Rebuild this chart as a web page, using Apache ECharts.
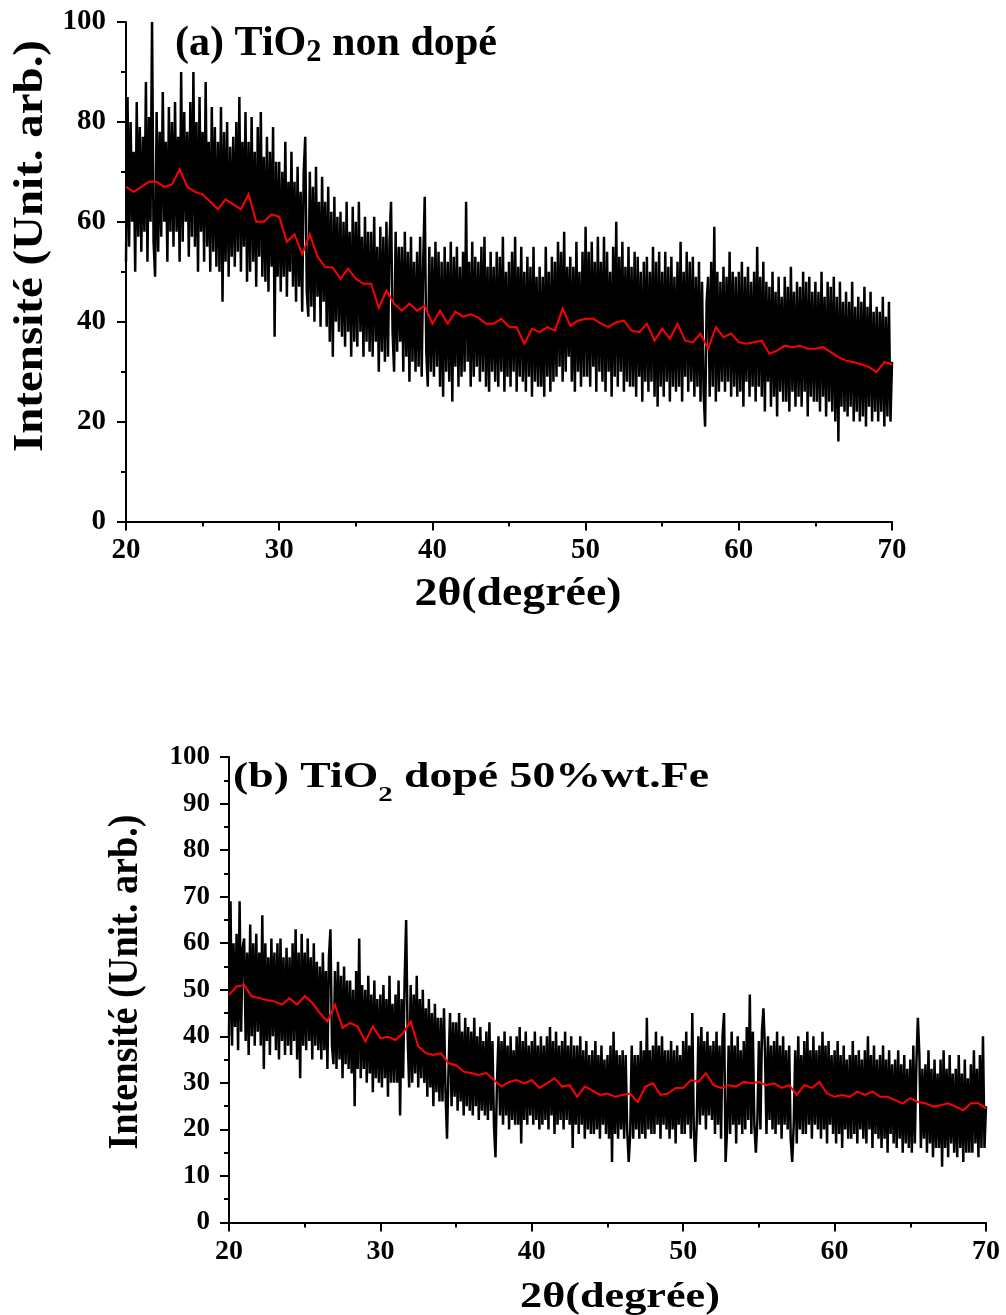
<!DOCTYPE html>
<html>
<head>
<meta charset="utf-8">
<script src="https://cdn.jsdelivr.net/npm/echarts@6/dist/echarts.min.js"></script>
<style>
html,body{margin:0;padding:0;background:#fff;}
#chart{width:1006px;height:1315px;}
</style>
</head>
<body>
<div id="chart"></div>
<script>
// ---------------- DATA ----------------
// x axis: 2theta from 20 to 70 degrees
const xMin = 20, xMax = 70, xTickStep = 10;
const rawStep = 0.1;     // spacing of the raw (black) diffractogram points
const smoothStep = 0.5;  // spacing of the smoothed (red) curve points

// (a) TiO2 non dopé – raw intensity, one row per degree (20.0 ... 69.9), then 70.0
const rawA = [
 52,85,55,80,60,74,50,84,57,79,
 54,77,58,88,52,81,60,100,56,49,
 82,54,78,57,86,60,76,52,83,58,
 80,55,84,58,77,52,90,56,82,60,
 78,53,84,57,90,55,80,50,85,58,
 78,52,88,55,76,50,83,54,79,51,
 76,50,83,44,78,52,80,49,75,53,
 77,51,80,54,85,50,76,55,82,48,
 76,50,81,52,74,47,79,53,82,49,
 73,48,77,46,74,51,79,37,72,49,
 72,46,70,49,76,45,68,50,74,47,
 68,44,71,47,66,42,70,77,46,41,
 70,43,67,40,71,45,64,39,69,44,
 64,39,67,36,62,33,65,40,61,38,
 62,37,60,35,64,38,58,33,63,36,
 60,35,64,38,57,33,61,36,58,34,
 58,33,61,36,55,30,59,34,57,32,
 60,33,56,64,38,30,58,34,55,36,
 55,30,58,33,54,28,57,32,52,30,
 54,31,57,29,52,65,34,27,55,30,
 53,29,56,31,54,27,52,25,55,30,
 52,28,56,24,53,31,55,27,51,29,
 54,30,64,32,52,27,56,29,53,31,
 52,28,55,30,57,27,51,26,54,30,
 51,28,54,27,53,30,57,26,50,29,
 52,27,54,30,57,26,51,29,55,28,
 50,26,53,29,51,25,55,28,49,27,
 51,27,49,25,55,29,50,26,53,28,
 52,29,56,31,54,28,58,30,51,33,
 53,28,51,26,56,30,50,27,54,29,
 59,29,54,27,56,31,52,26,57,30,
 52,28,57,26,54,30,50,25,55,29,
 60,27,53,30,56,26,51,28,55,27,
 51,27,54,25,53,29,50,24,52,28,
 53,26,50,28,55,25,52,23,54,27,
 50,25,54,28,51,24,53,27,49,26,
 52,27,56,24,50,29,54,26,52,28,
 53,25,49,27,52,24,48,26,19,44,
 49,25,52,27,59,24,50,26,48,28,
 51,26,49,28,54,25,50,27,49,25,
 50,26,52,23,49,28,51,25,48,27,
 50,24,55,27,49,25,52,22,48,28,
 47,23,50,25,46,21,49,26,45,24,
 49,24,47,22,51,26,46,23,48,25,
 47,23,50,26,48,21,49,25,46,24,
 48,24,46,22,50,25,45,21,48,24,
 47,22,49,20,45,16,48,23,44,22,
 46,21,44,23,48,20,43,22,45,20,
 44,21,47,19,43,23,46,20,42,22,
 43,20,42,22,45,19,41,21,44,20,
 32
];

// (a) smoothed curve, every 0.5 degree from 20.0 to 70.0
const smoothA = [
 67,66,67,68,68,67,67.5,70.5,67,66,
 65.5,64,62.5,64.5,63.5,62.5,65.5,60,60,61.5,
 61,56,57.5,53.5,57.5,53,51,50.8,48.6,50.6,
 48.6,47.6,47.6,42.8,46.2,43.6,42.2,43.6,42.2,43.2,
 39.6,42.2,39.6,42,41,41.5,40.8,39.6,39.6,40.6,
 39,38.9,35.6,38.6,37.9,38.9,38.2,42.6,39.2,40.2,
 40.6,40.6,39.6,38.9,39.9,40.2,38.2,37.9,39.6,36.2,
 38.6,36.6,39.6,36.2,35.9,37.6,34.6,38.9,36.9,37.6,
 35.9,35.6,35.9,36.2,33.6,34.2,35.2,34.9,35.2,34.6,
 34.6,34.9,33.9,32.9,32.2,31.9,31.5,30.9,29.9,31.9,
 31.5
];

// (b) TiO2 dopé 50%wt.Fe – raw intensity
const rawB = [
 40,69,38,60,42,62,37,69,41,59,
 61,39,58,36,64,40,60,38,62,41,
 58,38,66,33,60,39,57,36,61,40,
 58,37,60,35,61,39,57,36,59,38,
 57,36,60,39,63,35,58,31,62,38,
 58,37,61,39,57,35,60,38,56,37,
 55,35,58,37,54,33,57,63,38,34,
 54,33,56,35,53,31,55,34,52,33,
 52,32,50,25,54,33,61,31,51,33,
 50,30,53,32,49,28,52,31,48,30,
 49,29,51,31,48,27,53,30,47,30,
 49,30,52,23,48,31,52,65,40,29,
 51,30,49,32,53,29,48,31,50,30,
 46,27,48,29,45,25,47,28,44,26,
 44,26,46,28,18,33,45,25,43,27,
 43,24,45,26,41,23,44,25,42,24,
 41,23,44,25,40,22,42,24,39,23,
 41,22,43,24,39,21,14,30,40,23,
 39,21,41,23,38,20,40,22,37,21,
 40,21,42,17,39,22,41,21,38,23,
 39,21,41,22,38,20,40,21,38,22,
 40,20,42,23,39,19,41,21,38,22,
 39,20,41,22,38,21,40,16,38,21,
 38,19,40,21,37,18,39,20,36,19,
 37,19,39,20,36,18,38,21,35,19,
 36,18,38,13,41,19,37,18,36,20,
 37,18,36,20,13,19,38,18,36,20,
 36,18,39,19,37,18,44,20,37,19,
 38,19,41,21,38,18,40,21,37,20,
 37,18,39,20,37,17,38,21,36,19,
 39,19,41,21,38,18,45,20,13,22,
 40,21,42,23,39,20,41,23,38,22,
 39,19,41,21,38,18,40,45,13,20,
 38,19,41,21,38,17,40,21,37,19,
 39,20,42,22,49,19,41,21,15,22,
 39,20,41,46,37,19,40,22,38,20,
 39,19,41,21,38,18,40,21,37,20,
 38,18,13,21,37,17,40,20,36,19,
 39,19,41,21,37,18,40,21,37,20,
 38,18,41,20,38,17,39,21,36,19,
 37,17,39,19,36,16,38,20,35,18,
 36,18,39,19,36,17,37,20,35,18,
 37,17,40,20,36,16,38,19,35,18,
 36,16,38,18,35,15,37,19,34,17,
 35,16,37,18,34,15,36,17,33,16,
 35,15,38,17,34,44,36,16,33,18,
 34,15,37,17,33,14,35,16,32,16,
 35,12,37,16,33,14,36,17,32,15,
 33,14,36,16,32,13,35,15,31,15,
 34,15,37,17,33,14,36,16,40,16,
 25
];

// (b) smoothed curve, every 0.5 degree
const smoothB = [
 48.9,50.7,51,48.6,48.2,47.8,47.5,46.8,48.2,46.8,
 48.6,47.2,45,43.2,46.8,41.8,42.9,42.1,38.9,42.1,
 39.6,39.9,39.2,40.7,43.2,37.8,36.4,36,36.4,34.2,
 33.8,32.4,32.1,31.7,32.1,30.6,29.2,30.2,30.6,29.9,
 30.6,28.9,29.9,31,29.2,29.5,27,29.2,28.4,27.4,
 27.7,27,27.4,27.7,25.9,29.2,29.9,27.4,27.7,28.9,
 28.9,30.6,30.2,32.1,29.5,28.9,29.5,29.2,30.2,29.9,
 30.2,29.5,29.9,28.9,29.5,27.4,29.5,28.9,30.2,27.7,
 27,27.4,27,28.1,27.4,28.1,27,27,26.3,25.6,
 26.7,25.9,25.6,24.9,25.2,25.6,24.9,24.1,25.6,25.6,
 24.5
];

// y axes
const yA = {min: 0, max: 100, interval: 20};
const yB = {min: 0, max: 100, interval: 10};

// texts
const titleA = ['(a) TiO', '2', ' non dopé'];
const titleB = ['(b) TiO', '2', ' dopé 50%wt.Fe'];
const xName = '2θ(degrée)';
const yName = 'Intensité (Unit. arb.)';

// ---------------- BUILD ----------------
const FONT = 'Liberation Serif';
const mctx = document.createElement('canvas').getContext('2d');
function measure(t, size) {
  mctx.font = 'bold ' + size + 'px "' + FONT + '"';
  return mctx.measureText(t).width;
}
function pairs(arr, step) {
  return arr.map((v, i) => [+(xMin + i * step).toFixed(3), v]);
}
function fitText(text, size, cx, cy, targetLen, rot, thick) {
  const w = measure(text, size);
  return {
    type: 'text', x: cx, y: cy, rotation: rot || 0,
    scaleX: targetLen / w, scaleY: thick || 1,
    style: {text: text, fontFamily: FONT, fontWeight: 'bold', fontSize: size,
            fill: '#000', align: 'center', verticalAlign: 'middle'}
  };
}
function subTitle(parts, sizes, dys, left, cy, targetW) {
  let x = 0; const children = [];
  parts.forEach((t, i) => {
    children.push({type: 'text', x: x, y: dys[i],
      style: {text: t, fontFamily: FONT, fontWeight: 'bold', fontSize: sizes[i],
              fill: '#000', align: 'left', verticalAlign: 'middle'}});
    x += measure(t, sizes[i]);
  });
  return {type: 'group', x: left, y: cy, scaleX: targetW / x, children: children};
}

function xAxisCfg(gi, fs, margin) {
  return {
    gridIndex: gi, type: 'value', min: xMin, max: xMax, interval: xTickStep,
    axisLine: {onZero: false, lineStyle: {color: '#000', width: 2}},
    axisTick: {show: true, inside: false, length: 9, lineStyle: {color: '#000', width: 2}},
    minorTick: {show: true, splitNumber: 2, length: 5, lineStyle: {color: '#000', width: 2}},
    splitLine: {show: false},
    axisLabel: {margin: margin, color: '#000', fontFamily: FONT, fontWeight: 'bold', fontSize: fs}
  };
}
function yAxisCfg(gi, y, fs, margin) {
  return {
    gridIndex: gi, type: 'value', min: y.min, max: y.max, interval: y.interval,
    axisLine: {show: true, onZero: false, lineStyle: {color: '#000', width: 2}},
    axisTick: {show: true, inside: false, length: 9, lineStyle: {color: '#000', width: 2}},
    minorTick: {show: true, splitNumber: 2, length: 5, lineStyle: {color: '#000', width: 2}},
    splitLine: {show: false},
    axisLabel: {margin: margin, color: '#000', fontFamily: FONT, fontWeight: 'bold', fontSize: fs}
  };
}
function lineSeries(xi, yi, data, color, width, z) {
  return {
    type: 'line', xAxisIndex: xi, yAxisIndex: yi, data: data,
    showSymbol: false, symbol: 'none', sampling: null, z: z,
    lineStyle: {color: color, width: width, join: 'miter'}, clip: true
  };
}

const chart = echarts.init(document.getElementById('chart'), null, {renderer: 'canvas'});
chart.setOption({
  backgroundColor: '#fff',
  animation: false,
  grid: [
    {left: 126, top: 22, width: 766, height: 499.5},
    {left: 229, top: 757, width: 757, height: 465.5}
  ],
  xAxis: [xAxisCfg(0, 29, 15), xAxisCfg(1, 28, 15)],
  yAxis: [yAxisCfg(0, yA, 29, 20), yAxisCfg(1, yB, 27, 19)],
  series: [
    lineSeries(0, 0, pairs(rawA, rawStep), '#000', 2.5, 2),
    lineSeries(0, 0, pairs(smoothA, smoothStep), '#ff0000', 2, 3),
    lineSeries(1, 1, pairs(rawB, rawStep), '#000', 2.5, 2),
    lineSeries(1, 1, pairs(smoothB, smoothStep), '#ff0000', 2, 3)
  ],
  graphic: [
    subTitle(titleA, [43, 31, 43], [0, 8.5, 0], 175, 44, 322),
    subTitle(titleB, [35, 22, 35], [0, 17, 0], 233, 778, 476),
    fitText(xName, 40, 518, 595, 207),
    fitText(xName, 36, 620, 1298, 200),
    fitText(yName, 42, 31, 246, 412, Math.PI / 2),
    fitText(yName, 35, 126, 982, 335, Math.PI / 2, 1.2)
  ]
});
</script>
</body>
</html>
